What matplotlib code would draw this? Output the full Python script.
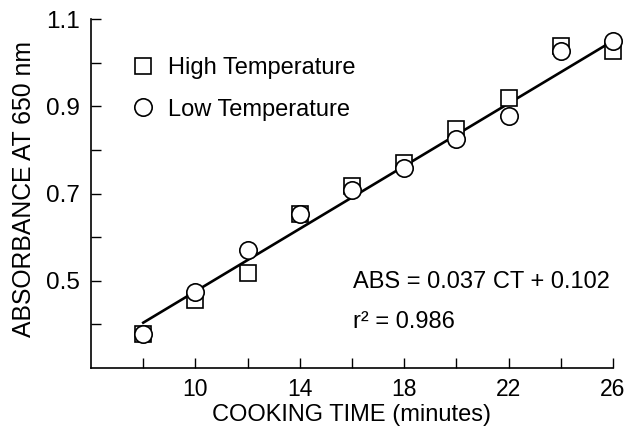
import numpy as np
import matplotlib
matplotlib.use("Agg")
import matplotlib.pyplot as plt

plt.rcParams['font.family'] = ['Liberation Sans', 'DejaVu Sans']

# data
cook_time = [8, 10, 12, 14, 16, 18, 20, 22, 24, 26]
high_temp = [0.379, 0.456, 0.519, 0.652, 0.718, 0.771, 0.847, 0.920, 1.039, 1.027]
low_temp = [0.379, 0.475, 0.570, 0.652, 0.709, 0.759, 0.824, 0.878, 1.027, 1.050]
fit_x = [8, 26]
fit_y = [0.404, 1.050]

x_ticks = [8, 10, 12, 14, 16, 18, 20, 22, 24, 26]
x_labels = ['', '10', '', '14', '', '18', '', '22', '', '26']
y_ticks = [0.4, 0.5, 0.6, 0.7, 0.8, 0.9, 1.0, 1.1]
y_labels = ['', '0.5', '', '0.7', '', '0.9', '', '1.1']

fig = plt.figure(figsize=(6.28, 4.33), dpi=100)
ax = fig.add_axes([0.145, 0.150, 0.831, 0.806])

ax.plot(fit_x, fit_y, color='black', lw=1.9, zorder=2)
ax.plot(cook_time, high_temp, 's', ms=12, mfc='white', mec='black', mew=1.2,
        label='High Temperature', zorder=3, clip_on=False)
ax.plot(cook_time, low_temp, 'o', ms=12.5, mfc='white', mec='black', mew=1.2,
        label='Low Temperature', zorder=4, clip_on=False)

ax.set_xlim(6, 26)
ax.set_ylim(0.3, 1.1)
ax.set_xticks(x_ticks)
ax.set_xticklabels(x_labels)
ax.set_yticks(y_ticks)
ax.set_yticklabels(y_labels)
ax.tick_params(direction='in', length=7, width=1.0)
ax.tick_params(axis='x', labelsize=16.5, pad=7)
ax.tick_params(axis='y', labelsize=17.5, pad=8)
for s in ['top', 'right']:
    ax.spines[s].set_visible(False)
for s in ['left', 'bottom']:
    ax.spines[s].set_linewidth(1.2)

ax.set_xlabel('COOKING TIME (minutes)', fontsize=17, labelpad=2)
ax.set_ylabel('ABSORBANCE AT 650 nm', fontsize=17.8)
ax.yaxis.set_label_coords(-0.105, 0.513)

ax.legend(loc='upper left', bbox_to_anchor=(0.081, 0.891), frameon=False,
          fontsize=17, handlelength=0.8, handletextpad=0.65, labelspacing=0.83,
          borderaxespad=0, borderpad=0)

ax.text(0.502, 0.246, 'ABS = 0.037 CT + 0.102', transform=ax.transAxes,
        fontsize=17, va='center')
ax.text(0.502, 0.132, 'r² = 0.986', transform=ax.transAxes,
        fontsize=17, va='center')

fig.savefig('out.png', dpi=100)
